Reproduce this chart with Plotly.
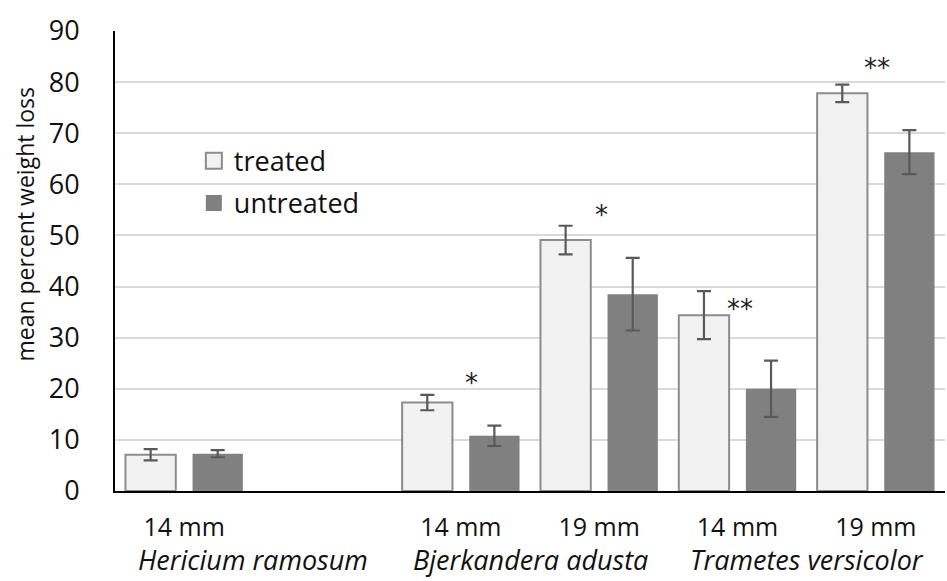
import plotly.graph_objects as go

categories = ["Hericium ramosum 14 mm", "Hericium ramosum 19 mm",
              "Bjerkandera adusta 14 mm", "Bjerkandera adusta 19 mm",
              "Trametes versicolor 14 mm", "Trametes versicolor 19 mm"]
size_labels = ["14 mm", "", "14 mm", "19 mm", "14 mm", "19 mm"]
species_names = ["Hericium ramosum", "Bjerkandera adusta", "Trametes versicolor"]

treated = [7.1, None, 17.3, 49.1, 34.4, 77.8]
treated_err = [1.1, None, 1.5, 2.8, 4.7, 1.7]
untreated = [7.3, None, 10.8, 38.5, 20.0, 66.3]
untreated_err = [0.7, None, 2.0, 7.1, 5.5, 4.3]

# significance marks: (slot index, y value, text)
sig_pos = [2.08, 3.02, 4.02, 5.01]
sig_y = [21.2, 54.0, 35.6, 82.8]
sig_text = ["*", "*", "**", "**"]

FONT = "Open Sans"
TREATED_FILL, TREATED_EDGE = "#f2f2f2", "#8c8c8c"
UNTREATED_FILL = "#808080"

fig = go.Figure()
fig.add_trace(go.Bar(
    name="treated", x=categories, y=treated,
    marker=dict(color=TREATED_FILL, line=dict(color=TREATED_EDGE, width=2)),
    error_y=dict(type="data", array=treated_err, color="#595959", thickness=2.2, width=7),
    showlegend=False,
))
fig.add_trace(go.Bar(
    name="untreated", x=categories, y=untreated,
    marker=dict(color=UNTREATED_FILL, line=dict(color=UNTREATED_FILL, width=0)),
    error_y=dict(type="data", array=untreated_err, color="#595959", thickness=2.2, width=7),
    showlegend=False,
))
# legend entries with larger square swatches
fig.add_trace(go.Scatter(
    name="treated", x=[categories[0]], y=[None], mode="markers",
    marker=dict(symbol="square", size=17, color=TREATED_FILL,
                line=dict(color=TREATED_EDGE, width=2)),
    legendgroup="a", hoverinfo="skip",
))
fig.add_trace(go.Scatter(
    name="untreated", x=[categories[0]], y=[None], mode="markers",
    marker=dict(symbol="square", size=19, color=UNTREATED_FILL,
                line=dict(width=0)),
    legendgroup="b", hoverinfo="skip",
))

for xp, yp, t in zip(sig_pos, sig_y, sig_text):
    fig.add_annotation(x=xp, y=yp, text=t, showarrow=False,
                       font=dict(family="DejaVu Sans", size=26, color="#222222"),
                       xanchor="center", yanchor="middle")

# species names centred under their pair of categories
for i, name in enumerate(species_names):
    fig.add_annotation(x=2 * i + 0.5, y=0, yref="paper", yshift=-89,
                       text=f"<i>{name}</i>", showarrow=False,
                       xanchor="center", yanchor="bottom",
                       font=dict(family=FONT, size=27, color="#111111"))

fig.add_annotation(xref="paper", yref="paper", x=-0.108, y=0.58,
                   text="mean percent weight loss", textangle=-90,
                   showarrow=False, xanchor="center", yanchor="middle",
                   font=dict(family=FONT, size=23, color="#111111"))

fig.update_layout(
    width=947, height=581,
    margin=dict(l=115, r=2, t=31, b=90),
    paper_bgcolor="white", plot_bgcolor="white",
    barmode="group", bargap=0.03, bargroupgap=0.25,
    font=dict(family=FONT, size=24, color="#111111"),
    showlegend=True,
    legend=dict(x=0.095, y=0.77, xanchor="left", yanchor="top",
                bgcolor="rgba(0,0,0,0)", tracegroupgap=4, itemwidth=30,
                font=dict(family=FONT, size=27, color="#111111")),
    xaxis=dict(type="category", tickmode="array", tickvals=categories,
               ticktext=size_labels, showline=True,
               linecolor="black", linewidth=2, ticks="",
               ticklabelstandoff=13, showgrid=False, automargin=False,
               tickfont=dict(family=FONT, size=25, color="#111111")),
    yaxis=dict(range=[0, 90], dtick=10, showgrid=True, gridcolor="#d9d9d9",
               gridwidth=2, showline=True, linecolor="black", linewidth=2,
               zeroline=False, ticks="", ticklabelstandoff=28, automargin=False,
               tickfont=dict(family=FONT, size=27, color="#111111")),
)

fig.write_html("out.html", config={"displayModeBar": False},
               post_script="document.body.style.margin='0';")
